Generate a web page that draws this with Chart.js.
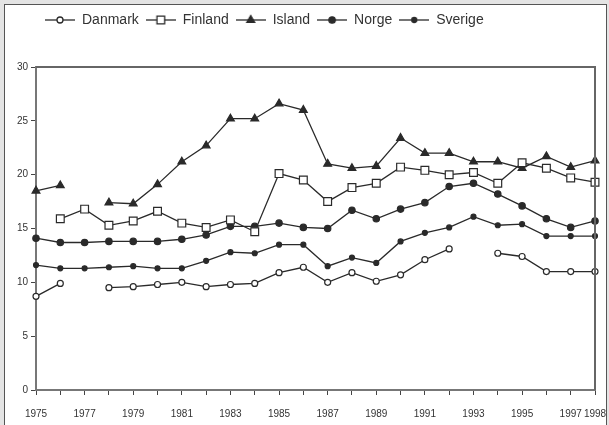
<!DOCTYPE html>
<html lang="en">
<head>
<meta charset="UTF-8">
<title>Nordic series 1975-1998</title>
<script src="https://cdn.jsdelivr.net/npm/chart.js"></script>
<style>
  body { margin: 0; background: #e4e4e4; }
  #frame { position: absolute; left: 4px; top: 4px; width: 601px; height: 430px; border: 1px solid #555; background: #fff; }
  #chart { position: absolute; left: 0; top: 0; }
</style>
</head>
<body>
<div id="frame"></div>
<canvas id="chart" width="609" height="425"></canvas>
<script>
// values
const years = ['1975','1976','1977','1978','1979','1980','1981','1982','1983','1984','1985','1986',
               '1987','1988','1989','1990','1991','1992','1993','1994','1995','1996','1997','1998'];
const shownYears = ['1975','1977','1979','1981','1983','1985','1987','1989','1991','1993','1995','1997','1998'];
const yTicks = [0, 5, 10, 15, 20, 25, 30];

const danmark = [8.7, 9.9, null, 9.5, 9.6, 9.8, 10.0, 9.6, 9.8, 9.9, 10.9, 11.4,
                 10.0, 10.9, 10.1, 10.7, 12.1, 13.1, null, 12.7, 12.4, 11.0, 11.0, 11.0];
const finland = [null, 15.9, 16.8, 15.3, 15.7, 16.6, 15.5, 15.1, 15.8, 14.7, 20.1, 19.5,
                 17.5, 18.8, 19.2, 20.7, 20.4, 20.0, 20.2, 19.2, 21.1, 20.6, 19.7, 19.3];
const island  = [18.5, 19.0, null, 17.4, 17.3, 19.1, 21.2, 22.7, 25.2, 25.2, 26.6, 26.0,
                 21.0, 20.6, 20.8, 23.4, 22.0, 22.0, 21.2, 21.2, 20.6, 21.7, 20.7, 21.3];
const norge   = [14.1, 13.7, 13.7, 13.8, 13.8, 13.8, 14.0, 14.4, 15.2, 15.2, 15.5, 15.1,
                 15.0, 16.7, 15.9, 16.8, 17.4, 18.9, 19.2, 18.2, 17.1, 15.9, 15.1, 15.7];
const sverige = [11.6, 11.3, 11.3, 11.4, 11.5, 11.3, 11.3, 12.0, 12.8, 12.7, 13.5, 13.5,
                 11.5, 12.3, 11.8, 13.8, 14.6, 15.1, 16.1, 15.3, 15.4, 14.3, 14.3, 14.3];

const ink = '#2a2a2a';

// little line+marker picture for the legend
function swatch(style, filled, r) {
    const c = document.createElement('canvas');
    c.width = 30; c.height = 12;
    const g = c.getContext('2d');
    g.strokeStyle = ink; g.lineWidth = 1.3;
    g.beginPath(); g.moveTo(0, 6); g.lineTo(30, 6); g.stroke();
    g.fillStyle = filled ? ink : '#fff';
    g.beginPath();
    if (style === 'circle') g.arc(15, 6, r, 0, Math.PI * 2);
    else if (style === 'rect') g.rect(15 - r * 0.7, 6 - r * 0.7, r * 1.4, r * 1.4);
    else { g.moveTo(15, 6 - r); g.lineTo(15 + r * 0.87, 6 + r * 0.5); g.lineTo(15 - r * 0.87, 6 + r * 0.5); g.closePath(); }
    g.fill(); g.stroke();
    return c;
}

function series(label, data, style, filled, r) {
    return {
        label: label,
        data: data,
        borderColor: ink,
        borderWidth: 1.3,
        backgroundColor: filled ? ink : '#fff',
        pointStyle: style,
        pointRadius: r,
        pointBorderWidth: 1.2,
        pointBorderColor: ink,
        pointBackgroundColor: filled ? ink : '#fff',
        legendIcon: swatch(style, filled, r),
        tension: 0,
        spanGaps: false
    };
}

const framePlugin = {
    id: 'frame',
    afterLayout(chart) {
        // legend sits left of centre and a bit lower in the reference
        chart.legend.left = 38;
        chart.legend.top = 6;
    },
    afterDraw(chart) {
        const a = chart.chartArea, ctx = chart.ctx;
        ctx.save();
        ctx.strokeStyle = '#666';
        ctx.lineWidth = 2;
        ctx.beginPath();
        ctx.moveTo(a.left, a.top); ctx.lineTo(a.right, a.top); ctx.lineTo(a.right, a.bottom);
        ctx.stroke();
        ctx.restore();
    }
};

const ctx = document.getElementById('chart').getContext('2d');
const chart = new Chart(ctx, {
    type: 'line',
    data: {
        labels: years,
        datasets: [
            series('Danmark', danmark, 'circle', false, 3),
            series('Finland', finland, 'rect', false, 5.5),
            series('Island', island, 'triangle', true, 4.5),
            series('Norge', norge, 'circle', true, 3.2),
            series('Sverige', sverige, 'circle', true, 2.5)
        ]
    },
    options: {
        responsive: false,
        animation: false,
        layout: { padding: { left: 0, right: 14, top: 0, bottom: 0 } },
        plugins: {
            tooltip: { enabled: false },
            legend: {
                position: 'top',
                align: 'start',
                labels: {
                    usePointStyle: true,
                    pointStyleWidth: 30,
                    boxHeight: 12,
                    padding: 7,
                    color: '#333',
                    font: { family: 'Liberation Sans, Arial, sans-serif', size: 14 },
                    generateLabels(chart) {
                        return chart.data.datasets.map((d, i) => ({
                            text: d.label,
                            pointStyle: d.legendIcon,
                            fillStyle: d.backgroundColor,
                            strokeStyle: ink,
                            lineWidth: 0,
                            fontColor: '#333',
                            datasetIndex: i
                        }));
                    }
                }
            }
        },
        scales: {
            x: {
                type: 'category',
                offset: false,
                grid: { display: true, drawOnChartArea: false, tickLength: 5, color: '#444' },
                border: { display: true, color: '#777', width: 2 },
                ticks: {
                    autoSkip: false,
                    maxRotation: 0,
                    padding: 13,
                    color: '#333',
                    font: { family: 'Liberation Sans, Arial, sans-serif', size: 10 },
                    callback: (v, i) => shownYears.includes(years[i]) ? years[i] : ''
                },
                afterFit: s => {
                    s.height = 35;
                    // let the last year label run past the plot edge, as in the reference
                    s.paddingRight = 0;
                    s.paddingLeft = 0;
                }
            },
            x2: {
                type: 'category',
                position: 'top',
                grid: { display: false },
                border: { display: false },
                ticks: { display: false },
                afterFit: s => {
                    const lh = s.chart.legend ? s.chart.legend.height : 30;
                    s.height = Math.max(0, 67 - lh);
                }
            },
            y: {
                min: 0,
                max: 30,
                afterBuildTicks: s => { s.ticks = yTicks.map(v => ({ value: v })); },
                grid: { display: true, drawOnChartArea: false, tickLength: 5, color: '#444' },
                border: { display: true, color: '#777', width: 2 },
                ticks: {
                    padding: 3,
                    color: '#333',
                    font: { family: 'Liberation Sans, Arial, sans-serif', size: 10 }
                },
                afterFit: s => { s.width = 36; }
            }
        }
    },
    plugins: [framePlugin]
});
</script>
</body>
</html>
